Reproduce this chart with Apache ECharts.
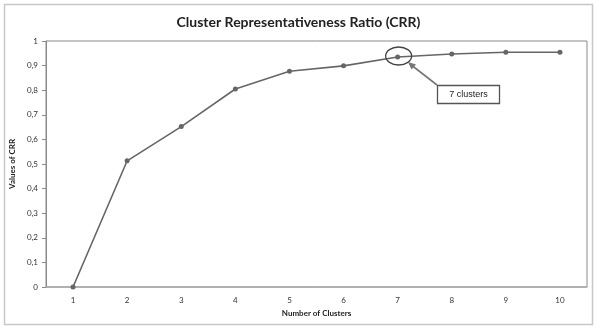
<!DOCTYPE html>
<html>
<head>
<meta charset="utf-8">
<script src="https://cdn.jsdelivr.net/npm/echarts@6/dist/echarts.min.js"></script>
<style>html,body{margin:0;padding:0;background:#fff}#c{width:597px;height:329px}</style>
</head>
<body>
<div id="c"></div>
<script>
const categories = ['1','2','3','4','5','6','7','8','9','10'];
const crrValues = [0, 0.513, 0.652, 0.805, 0.877, 0.899, 0.935, 0.947, 0.954, 0.954];
const yTicks = [0, 0.1, 0.2, 0.3, 0.4, 0.5, 0.6, 0.7, 0.8, 0.9, 1];

const chart = echarts.init(document.getElementById('c'));
const font = 'Lato, "Open Sans", sans-serif';
chart.setOption({
  animation: false,
  backgroundColor: '#fff',
  title: {
    text: 'Cluster Representativeness Ratio (CRR)',
    left: 'center', top: 10,
    textStyle: {fontFamily: font, fontSize: 14, fontWeight: 'bold', color: '#222'}
  },
  grid: {left: 46, right: 10, top: 41, bottom: 42, show: true, borderColor: '#8a8a8a', borderWidth: 1},
  xAxis: {
    type: 'category', data: categories, boundaryGap: true,
    name: 'Number of Clusters', nameLocation: 'middle', nameGap: 22,
    nameTextStyle: {fontFamily: font, fontSize: 8, fontWeight: 'bold', color: '#222'},
    axisLine: {lineStyle: {color: '#aaa', width: 1.5}},
    axisTick: {show: false},
    axisLabel: {fontFamily: font, fontSize: 8, color: '#333', margin: 9}
  },
  yAxis: {
    type: 'value', min: 0, max: 1, interval: 0.1,
    name: 'Values of CRR', nameLocation: 'middle', nameGap: 23,
    nameTextStyle: {fontFamily: font, fontSize: 8, fontWeight: 'bold', color: '#222'},
    axisLine: {show: true, lineStyle: {color: '#8a8a8a'}},
    axisTick: {show: true, length: 4, lineStyle: {color: '#8a8a8a'}},
    splitLine: {show: false},
    axisLabel: {fontFamily: font, fontSize: 8, color: '#333', margin: 8,
      formatter: v => {const t = yTicks.find(x => Math.abs(x - v) < 1e-9); return String(t !== undefined ? t : v).replace('.', ',');}}
  },
  series: [{
    type: 'line', data: crrValues,
    symbol: 'circle', symbolSize: 5,
    lineStyle: {color: '#666', width: 1.6},
    itemStyle: {color: '#666'}
  }]
});

const p7 = chart.convertToPixel({gridIndex: 0}, [6, crrValues[6]]);
chart.setOption({
  graphic: [
    {type: 'rect', shape: {x: 4.5, y: 4.5, width: 588, height: 320}, style: {fill: 'none', stroke: '#c8c8c8', lineWidth: 1.5}, z: 0, silent: true},
    {type: 'ellipse', shape: {cx: p7[0] + 1, cy: p7[1] - 1, rx: 13, ry: 9}, style: {fill: 'none', stroke: '#444', lineWidth: 1.3}, z: 100},
    {type: 'line', shape: {x1: 437, y1: 85, x2: 410, y2: 64}, style: {stroke: '#777', lineWidth: 1.6}, z: 100},
    {type: 'polygon', shape: {points: [[408, 62], [416, 64.5], [411.5, 69.5]]}, style: {fill: '#777'}, z: 100},
    {type: 'rect', shape: {x: 437.5, y: 85.5, width: 62, height: 18}, style: {fill: '#fff', stroke: '#555', lineWidth: 1.3}, z: 100},
    {type: 'text', x: 468.5, y: 94.5, style: {text: '7 clusters', fontFamily: 'Arial, "Liberation Sans", sans-serif', fontSize: 9, fill: '#222', align: 'center', verticalAlign: 'middle'}, z: 101}
  ]
});
</script>
</body>
</html>
